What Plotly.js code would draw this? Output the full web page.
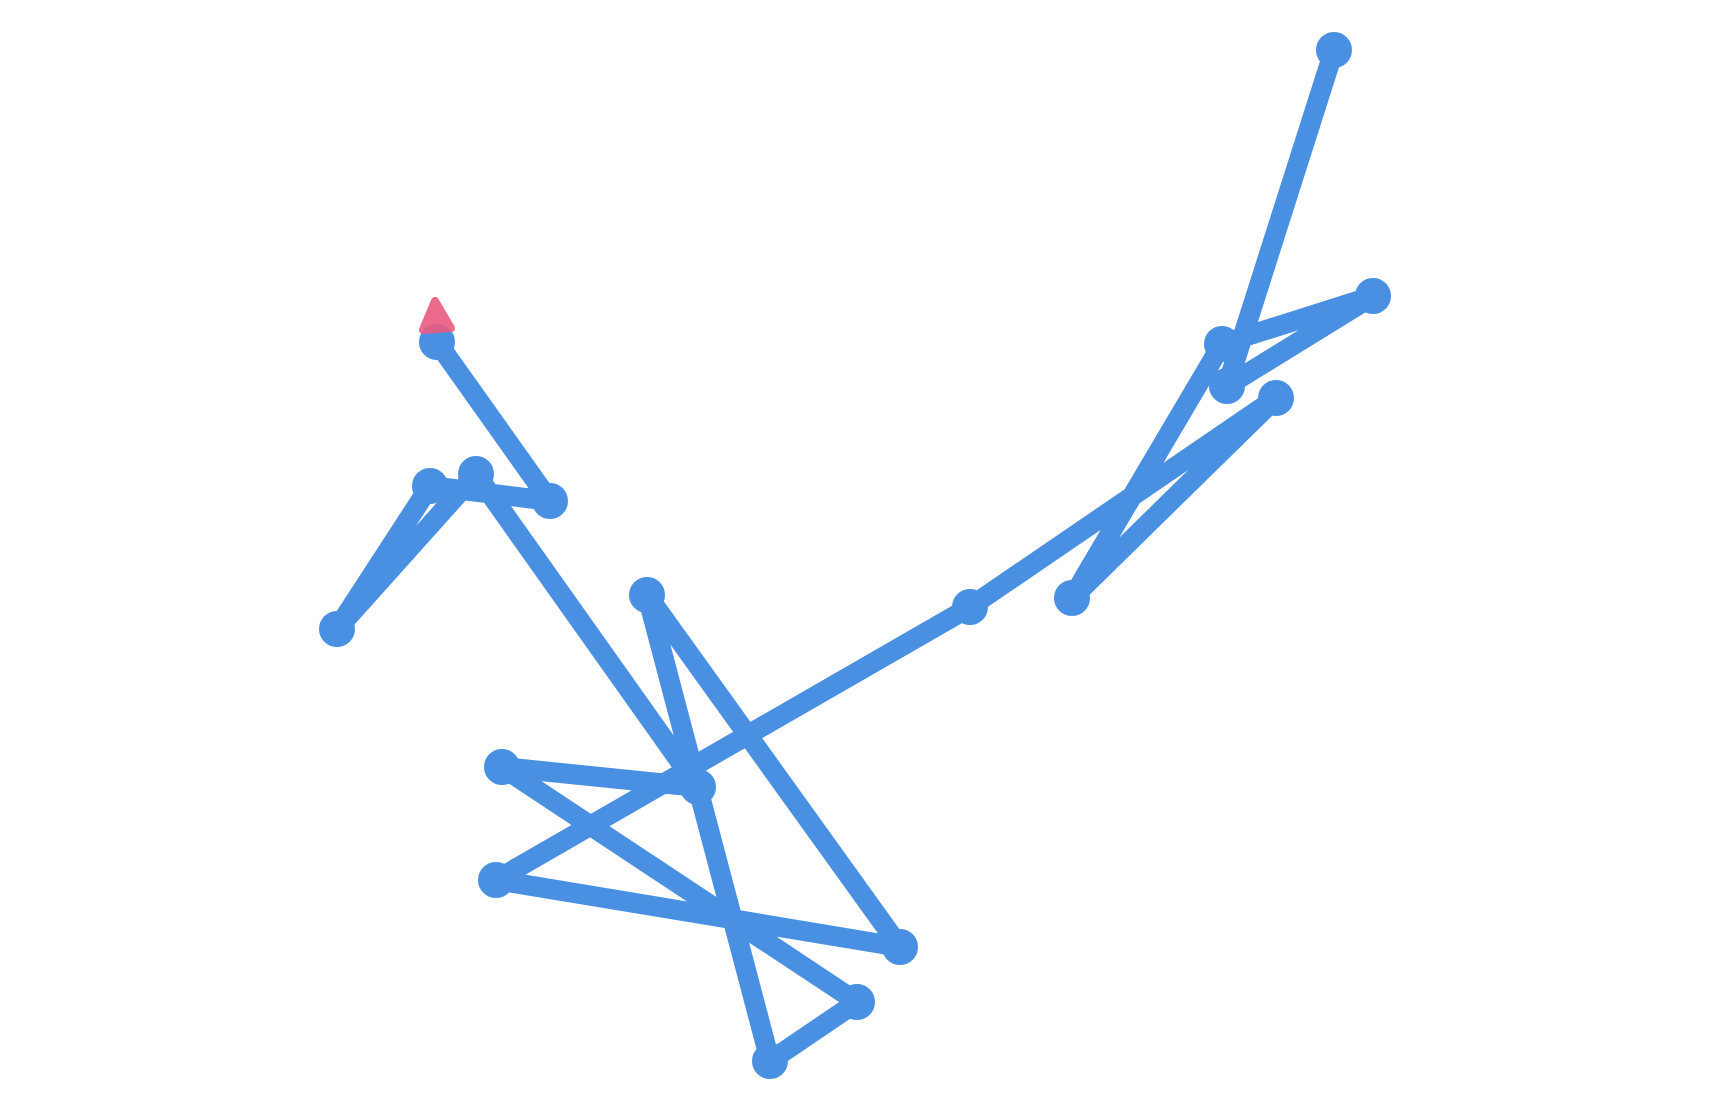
<!DOCTYPE html>
<html>
<head>
<meta charset="utf-8">
<script src="https://cdn.plot.ly/plotly-3.0.1.min.js"></script>
<style>
  html, body { margin: 0; padding: 0; background: #ffffff; }
  #chart { width: 1710px; height: 1110px; }
  #chart .scatterlayer .trace:last-child path.point { stroke-linejoin: round; }
</style>
</head>
<body>
<div id="chart"></div>
<script>
// Walk positions, in visiting order
const walkX = [4.79, 3.72, 5.18, 3.67, 2.17, 4.21, 1.15, -3.59, 0.45, -2.08, -0.85, 0.02, -3.53, -1.57, -3.79, -5.18, -4.25, -3.05, -4.18];
const walkY = [5.05, 1.69, 2.59, 2.11, -0.43, 1.57, -0.52, -3.25, -3.92, -0.40, -5.06, -4.47, -2.12, -2.32, 0.81, -0.74, 0.69, 0.54, 2.13];

// Heading marker at the end of the walk
const endX = [-4.20];
const endY = [2.54];

const blue = '#4A90E2';
const pink = '#EA5A80';

const traces = [
  {
    type: 'scatter',
    mode: 'lines+markers',
    x: walkX,
    y: walkY,
    line: { color: blue, width: 20 },
    marker: { color: blue, size: 36 },
    hoverinfo: 'skip',
    showlegend: false
  },
  {
    type: 'scatter',
    mode: 'markers',
    x: endX,
    y: endY,
    marker: {
      symbol: 'arrow-up',
      color: pink,
      size: 28,
      angle: -4,
      opacity: 0.9,
      line: { color: pink, width: 8 }
    },
    hoverinfo: 'skip',
    showlegend: false
  }
];

const layout = {
  width: 1710,
  height: 1110,
  margin: { l: 0, r: 0, t: 0, b: 0 },
  paper_bgcolor: '#ffffff',
  plot_bgcolor: '#ffffff',
  xaxis: { range: [-8.55, 8.55], visible: false, fixedrange: true },
  yaxis: { range: [-5.55, 5.55], visible: false, fixedrange: true },
  hovermode: false,
  showlegend: false
};

Plotly.newPlot('chart', traces, layout, { displayModeBar: false, staticPlot: true });
</script>
</body>
</html>
